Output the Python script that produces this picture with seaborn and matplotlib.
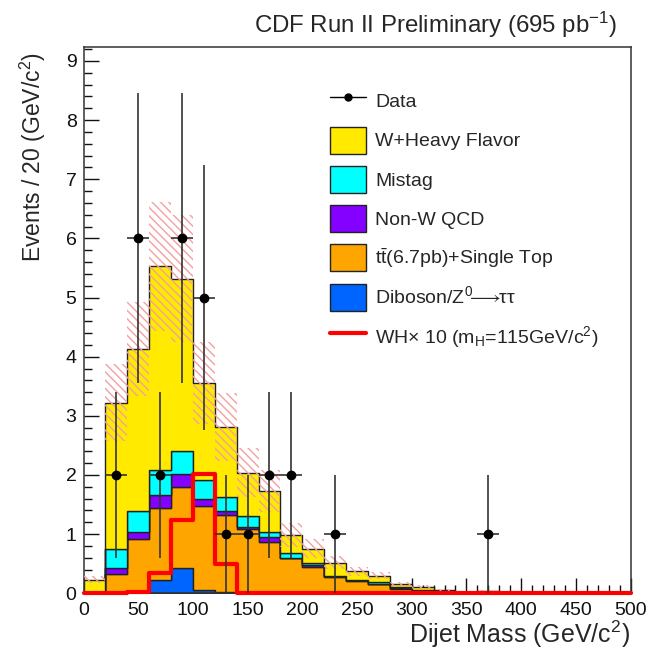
import numpy as np
import pandas as pd
import seaborn as sns
import matplotlib.pyplot as plt
from matplotlib.lines import Line2D
from matplotlib.patches import Patch
from matplotlib.ticker import MultipleLocator

# 20 GeV/c^2 bins, 0 - 500
bin_edges = list(range(0, 520, 20))

processes = ["W+Heavy Flavor", "Mistag", "Non-W QCD", "ttbar", "Diboson"]

# per-bin expectation of each background (not cumulative)
w_hf = [0.20, 2.47, 2.74, 3.44, 2.91, 1.65, 1.19, 0.74, 0.69, 0.30, 0.24, 0.22, 0.14,
        0.11, 0.05, 0.05, 0.02, 0.02, 0.02, 0.02, 0.0, 0.0, 0.0, 0.0, 0.0]
mistag = [0.0, 0.32, 0.35, 0.42, 0.40, 0.31, 0.23, 0.18, 0.09, 0.08, 0.03, 0.01, 0.01,
          0.03, 0.01, 0.01, 0.0, 0.0, 0.0, 0.0, 0.0, 0.0, 0.0, 0.0, 0.0]
non_w = [0.0, 0.10, 0.13, 0.23, 0.21, 0.12, 0.07, 0.04, 0.08, 0.0, 0.03, 0.01, 0.01,
         0.01, 0.01, 0.0, 0.0, 0.0, 0.0, 0.0, 0.0, 0.0, 0.0, 0.0, 0.0]
ttbar = [0.03, 0.32, 0.89, 1.21, 1.37, 1.43, 1.30, 1.07, 0.86, 0.59, 0.45, 0.28, 0.21,
         0.15, 0.08, 0.05, 0.03, 0.01, 0.02, 0.01, 0.0, 0.0, 0.0, 0.0, 0.0]
diboson = [0.0, 0.01, 0.02, 0.23, 0.43, 0.05, 0.02, 0.01, 0.01, 0.01, 0.0, 0.0, 0.0,
           0.0, 0.0, 0.0, 0.0, 0.0, 0.0, 0.0, 0.0, 0.0, 0.0, 0.0, 0.0]
# systematic band half width on total
bkg_err = [0.06, 0.65, 0.80, 1.09, 1.08, 0.69, 0.58, 0.42, 0.36, 0.20, 0.16, 0.11, 0.08,
           0.06, 0.04, 0.03, 0.02, 0.01, 0.01, 0.01, 0.0, 0.0, 0.0, 0.0, 0.0]

# WH signal x 10
wh_x10 = [0.0, 0.0, 0.03, 0.35, 1.24, 2.02, 0.49, 0.01, 0.0, 0.0, 0.0, 0.0, 0.0,
          0.0, 0.0, 0.0, 0.0, 0.0, 0.0, 0.0, 0.0, 0.0, 0.0, 0.0, 0.0]

# observed data (non-empty bins)
data_mass = [30, 50, 70, 90, 110, 130, 150, 170, 190, 230, 370]
data_events = [2, 6, 2, 6, 5, 1, 1, 2, 2, 1, 1]
data_err = [1.41, 2.45, 1.41, 2.45, 2.24, 1.0, 1.0, 1.41, 1.41, 1.0, 1.0]

colors = {"W+Heavy Flavor": "#ffea00", "Mistag": "#00ffff", "Non-W QCD": "#8400ff",
          "ttbar": "#ffa500", "Diboson": "#0064ff"}

sns.set_style("ticks")
plt.rcParams["font.family"] = ["Liberation Sans", "DejaVu Sans"]
plt.rcParams["mathtext.fontset"] = "custom"
plt.rcParams["mathtext.rm"] = "Liberation Sans"
plt.rcParams["mathtext.it"] = "Liberation Sans:italic"
plt.rcParams["mathtext.bf"] = "Liberation Sans:bold"
plt.rcParams["hatch.linewidth"] = 1.0

centers = [e + 10 for e in bin_edges[:-1]]
frames = []
for name, vals in zip(processes, [w_hf, mistag, non_w, ttbar, diboson]):
    frames.append(pd.DataFrame({"mass": centers, "events": vals, "process": name}))
bkg = pd.concat(frames, ignore_index=True)

fig = plt.figure(figsize=(6.48, 6.53), dpi=100)
ax = fig.add_axes([83.5 / 648, 1 - 593.3 / 653, 547 / 648, 546 / 653])

sns.histplot(data=bkg, x="mass", weights="events", hue="process", hue_order=processes,
             bins=bin_edges, multiple="stack", element="step", palette=colors,
             alpha=1, edgecolor="#222222", linewidth=1.0, legend=False, ax=ax)

# hatched uncertainty band
total = np.array(w_hf) + np.array(mistag) + np.array(non_w) + np.array(ttbar) + np.array(diboson)
lo = total - np.array(bkg_err)
hi = total + np.array(bkg_err)
ax.fill_between(bin_edges, np.append(lo, lo[-1]), np.append(hi, hi[-1]), step="post",
                facecolor="none", edgecolor="#f4a0a0", hatch="\\\\\\\\", linewidth=0, zorder=3)

sns.histplot(x=centers, weights=wh_x10, bins=bin_edges, element="step", fill=False,
             color="#ff0000", linewidth=3, ax=ax)
ax.lines[-1].set_clip_on(False)
ax.lines[-1].set_zorder(4)

ax.errorbar(data_mass, data_events, xerr=10, yerr=data_err, fmt="o", color="black",
            ecolor="#333333", elinewidth=1.2, markersize=6, capsize=0, zorder=5)

ax.set_xlim(0, 500)
ax.set_ylim(0, 9.23)
ax.set_xlabel("")
ax.set_ylabel("")
ax.xaxis.set_major_locator(MultipleLocator(50))
ax.xaxis.set_minor_locator(MultipleLocator(10))
ax.yaxis.set_major_locator(MultipleLocator(1))
ax.yaxis.set_minor_locator(MultipleLocator(0.2))
ax.tick_params(which="both", direction="in", colors="#111111", labelsize=14, width=1)
ax.tick_params(which="major", length=11)
ax.tick_params(which="minor", length=5.5)
ax.tick_params(axis="x", pad=6)
ax.tick_params(axis="y", pad=5)
for sp in ax.spines.values():
    sp.set_visible(True)
    sp.set_linewidth(1.1)
    sp.set_color("#333333")

handles = [Line2D([], [], color="black", marker="o", markersize=5, lw=1)]
for name in processes:
    handles.append(Patch(facecolor=colors[name], edgecolor="#222222", lw=1))
handles.append(Line2D([], [], color="#ff0000", lw=3))
labels = ["Data", "W+Heavy Flavor", "Mistag", "Non-W QCD",
          r"$\mathregular{t\bar{t}}$(6.7pb)+Single Top",
          r"Diboson/Z$^0\!\!\longrightarrow\!\!$ττ",
          "WH\u00d7 10 ($\\mathregular{m_H}$=115GeV/c$^2$)"]
ax.legend(handles, labels, loc="upper left", bbox_to_anchor=(0.4506, 0.9266),
          frameon=False, fontsize=14, handlelength=1.85, handleheight=1.76,
          labelspacing=0.63, handletextpad=0.46, borderpad=0, borderaxespad=0)

fig.text(617 / 648, 1 - 33.3 / 653, "CDF Run II Preliminary (695 pb$^{-1}$)",
         ha="right", va="baseline", fontsize=17.3)
fig.text(630 / 648, 1 - 643 / 653, "Dijet Mass (GeV/c$^2$)", ha="right", va="baseline",
         fontsize=18)
fig.text(48 / 648, 1 - 52 / 653, "Events / 20 (GeV/c$^2$)", rotation=90, ha="right",
         va="top", fontsize=16.5)

fig.savefig("out.png", dpi=100)
